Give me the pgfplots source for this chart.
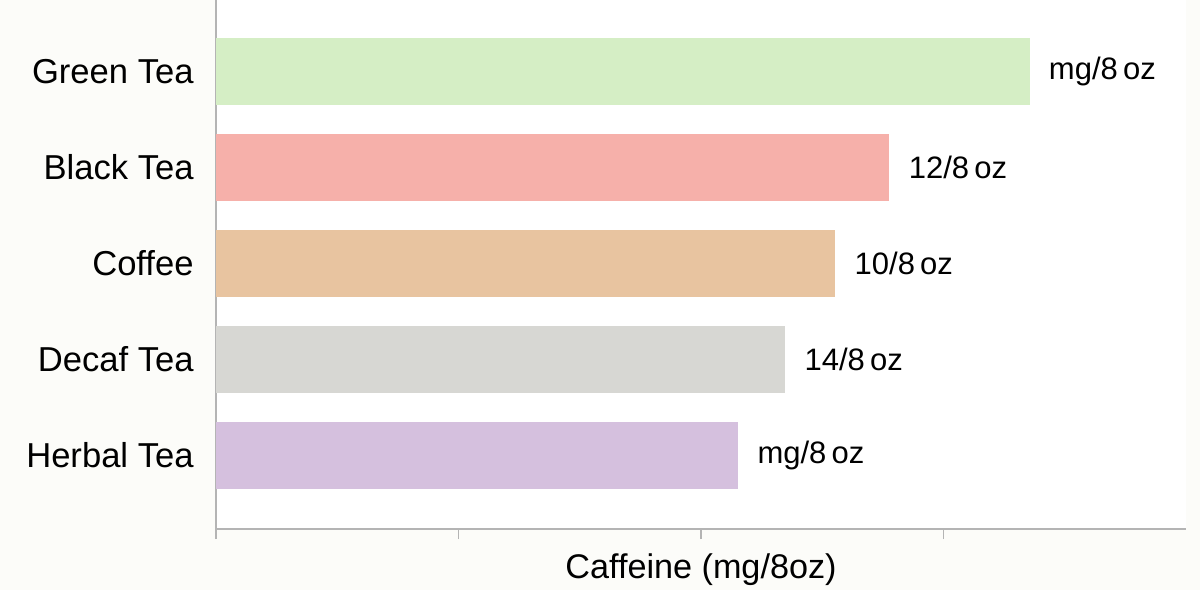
\documentclass[border=0pt]{standalone}
\usepackage{fontspec}
\setmainfont{Liberation Sans}
\usepackage{pgfplots}
\pgfplotsset{compat=1.18}
\definecolor{bggray}{HTML}{FCFCF9}
\definecolor{axgray}{HTML}{B4B4B4}
\definecolor{cgreen}{HTML}{D5EEC5}
\definecolor{cblack}{HTML}{F6B0AA}
\definecolor{ccoffee}{HTML}{E8C4A0}
\definecolor{cdecaf}{HTML}{D7D7D3}
\definecolor{cherbal}{HTML}{D5C0DE}
\begin{document}
\begin{tikzpicture}
\fill[bggray] (-108pt,-30.5pt) rectangle (492pt,264.5pt);
\begin{axis}[
  scale only axis,
  width=485pt, height=264.5pt,
  xmin=0, xmax=40, ymin=-0.77, ymax=4.745,
  axis x line*=bottom, axis y line*=left,
  axis line style={axgray, line width=0.6pt},
  axis background/.style={fill=white},
  xbar, bar width=33.5pt, bar shift=0pt,
  xtick={0,10,20,30}, xticklabels={},
  tick align=outside,
  x tick style={axgray, line width=0.6pt},
  major tick length=5pt,
  ytick={0,1,2,3,4},
  yticklabels={Herbal Tea, Decaf Tea, Coffee, Black Tea, Green Tea},
  y tick style={draw=none},
  yticklabel style={font=\fontsize{17.3}{20}\selectfont, inner sep=0pt, xshift=-6pt},
  xlabel={Caffeine (mg/8oz)},
  xlabel style={font=\fontsize{17.1}{20}\selectfont, at={(axis description cs:0.5,0)}, anchor=center, yshift=-20.5pt},
  point meta=explicit symbolic,
  nodes near coords,
  every node near coord/.append style={font=\fontsize{15.5}{18}\selectfont, anchor=west, inner sep=0pt, xshift=9.5pt, text=black},
  clip=false,
]
\addplot[fill=cgreen, draw=none] coordinates {(33.55,4) [mg/8\,oz]};
\addplot[fill=cblack, draw=none] coordinates {(27.77,3) [12/8\,oz]};
\addplot[fill=ccoffee, draw=none] coordinates {(25.54,2) [10/8\,oz]};
\addplot[fill=cdecaf, draw=none] coordinates {(23.47,1) [14/8\,oz]};
\addplot[fill=cherbal, draw=none] coordinates {(21.53,0) [mg/8\,oz]};
\end{axis}
\pgfresetboundingbox
\path[use as bounding box] (-108pt,-30.5pt) rectangle (492pt,264.5pt);
\end{tikzpicture}
\end{document}
